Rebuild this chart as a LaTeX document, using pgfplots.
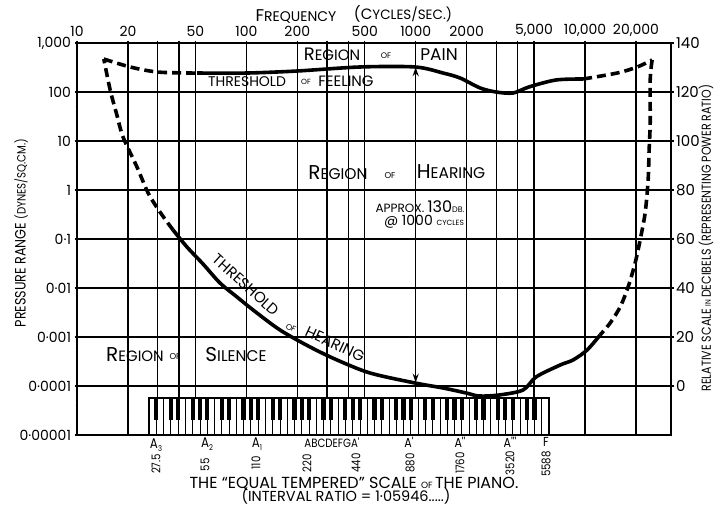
\documentclass[border=0pt]{standalone}
\usepackage{fontspec}
\setmainfont{Poppins}
\newfontfamily\hand{Poppins}[FakeStretch=0.85]
\newfontfamily\handw{Poppins}
\usepackage{pgfplots}
\pgfplotsset{compat=1.18}
\usetikzlibrary{arrows.meta}
\pgfdeclareplotmark{bkey}{\pgfpathrectangle{\pgfqpoint{-2.1pt}{-11pt}}{\pgfqpoint{4.2pt}{22pt}}\pgfusepath{fill}}
\newcommand\fs[1]{\fontsize{#1}{#1}\selectfont}
\begin{document}
\begin{tikzpicture}
%================ main axis ================
\begin{axis}[
  at={(77pt,73pt)}, anchor=south west,
  scale only axis, width=594pt, height=392pt,
  xmode=log, ymode=log,
  xmin=10, xmax=32200, ymin=1e-5, ymax=1000,
  axis line style={line width=2.4pt},
  xtick={10,20,30,40,50,100,200,300,400,500,1000,2000,3000,4000,5000,10000,20000},
  xticklabels={10,20,,,50,100,200,,,500,1000,2000,,,{5,000},{10,000},{20,000}},
  xtick pos=right, xticklabel pos=right,
  ytick={1e-5,1e-4,1e-3,1e-2,1e-1,1,10,100,1000},
  yticklabels={0{\textperiodcentered}00001,0{\textperiodcentered}0001,0{\textperiodcentered}001,0{\textperiodcentered}01,0{\textperiodcentered}1,1,10,100,{1,000}},
  ytick pos=left,
  minor tick num=0,
  grid=major,
  major grid style={black, line width=1.3pt},
  tick style={black, line width=1.3pt},
  major tick length=5pt,
  tick align=center,
  /pgf/number format/assume math mode=true,
  tick label style={font=\fs{14}},
  xticklabel style={font=\fs{14}},
]
% threshold of feeling, dashed start
\addplot[black, line width=3.6pt, dash pattern=on 9pt off 5pt, smooth] coordinates {
(14.4,471) (20.6,324) (29.7,256) (46.5,244) (51.2,244)};
% threshold of feeling, solid
\addplot[black, line width=3.6pt, smooth] coordinates {
(51.2,244) (101,244) (199,268) (470,324) (993,324) (1452,244) (1829,193)
(2399,121) (2985,100) (3762,95.4) (4673,127) (6745,176) (9746,184)};
% threshold of feeling, dashed end
\addplot[black, line width=3.6pt, dash pattern=on 9pt off 5pt, smooth] coordinates {
(9746,184) (15490,244) (20330,324) (24900,450)};
% right branch, dashed
\addplot[black, line width=3.6pt, dash pattern=on 9pt off 5pt, smooth] coordinates {
(24900,450) (24260,176) (24260,23.3) (23910,6.55) (23590,1.60) (22650,0.340)
(21160,0.0955) (19770,0.0324) (17970,0.0105) (16120,0.00409) (14070,0.00193) (12280,0.0011)};
% threshold of hearing, solid
\addplot[black, line width=3.6pt, smooth] coordinates {
(12280,0.0011) (10290,0.000543) (8505,0.00034) (7129,0.000268) (5140,0.000153)
(4306,0.0000828) (3109,0.0000655) (2368,0.0000625) (1986,0.000072) (1452,0.000091)
(993,0.000115) (538,0.000184) (343,0.00034) (238,0.000625) (158,0.00139)
(109.6,0.00356) (88.1,0.00655) (69.9,0.01265) (55.5,0.0309) (44.6,0.0687) (36.9,0.153)};
% threshold of hearing, dashed left
\addplot[black, line width=3.6pt, dash pattern=on 9pt off 5pt, smooth] coordinates {
(36.9,0.153) (30.9,0.356) (26.3,0.869) (22.6,2.95) (18.7,12.1) (17.2,34.0) (15.7,110) (14.4,471)};
% 130 dB arrow at 1000 cycles
\addplot[black, line width=1.6pt, {Stealth[length=9pt,width=6pt]}-{Stealth[length=9pt,width=6pt]}] coordinates {
(1000,0.000117) (1000,322)};
\end{axis}
%================ piano keyboard ================
\begin{axis}[
  at={(77pt,73pt)}, anchor=south west,
  scale only axis, width=594pt, height=392pt,
  xmin=-9.9, xmax=71.775, ymin=0, ymax=392, hide axis, clip=false]
\addplot[fill=white, draw=black, line width=1.3pt] coordinates {(0,0) (0,37) (55,37) (55,0)} \closedcycle;
\addplot[ycomb, black, line width=0.8pt] coordinates {
(1,37) (2,37) (3,37) (4,37) (5,37) (6,37) (7,37) (8,37) (9,37) (10,37)
(11,37) (12,37) (13,37) (14,37) (15,37) (16,37) (17,37) (18,37) (19,37) (20,37)
(21,37) (22,37) (23,37) (24,37) (25,37) (26,37) (27,37) (28,37) (29,37) (30,37)
(31,37) (32,37) (33,37) (34,37) (35,37) (36,37) (37,37) (38,37) (39,37) (40,37)
(41,37) (42,37) (43,37) (44,37) (45,37) (46,37) (47,37) (48,37) (49,37) (50,37)
(51,37) (52,37) (53,37) (54,37)};
\addplot[only marks, mark=bkey, black] coordinates {
(1,26) (3,26) (4,26) (6,26) (7,26) (8,26) (10,26) (11,26) (13,26) (14,26)
(15,26) (17,26) (18,26) (20,26) (21,26) (22,26) (24,26) (25,26) (27,26) (28,26)
(29,26) (31,26) (32,26) (34,26) (35,26) (36,26) (38,26) (39,26) (41,26) (42,26)
(43,26) (45,26) (46,26) (48,26) (49,26) (50,26) (52,26) (53,26)};
\end{axis}
%================ right decibel axis + frame ================
\begin{axis}[
  at={(77pt,73pt)}, anchor=south west,
  scale only axis, width=594pt, height=392pt,
  xmin=0, xmax=1, ymin=-20, ymax=140,
  xtick=\empty,
  ytick={0,20,40,60,80,100,120,140},
  ytick pos=right, yticklabel pos=right,
  axis line style={line width=2.4pt},
  tick style={black, line width=1.3pt},
  major tick length=5pt, tick align=center,
  /pgf/number format/assume math mode=true,
  yticklabel style={font=\fs{15}, xshift=-1pt},
]
\end{axis}
%================ annotations ================
\begin{scope}[x=1pt, y=-1pt, shift={(0pt,508pt)}, font=\handw, every node/.style={inner sep=0.5pt}]
\node at (296,17) {\fs{17}F\fs{14}REQUENCY};
\node at (403,14) {\fs{15}(C\fs{13.5}YCLES/SEC.)};
% region of pain
\node at (332,54) {\fs{18}R\fs{15}EGION};
\node at (386,56) {\fs{8}OF};
\node at (439,55) {\fs{17}PAIN};
% threshold of feeling
\node at (247,82) {\fs{14}THRESHOLD};
\node at (306,82) {\fs{7.5}OF};
\node at (346,81) {\fs{15}FEELING};
% region of hearing
\node at (338,173) {\fs{20}R\fs{15.5}EGION};
\node at (390,176) {\fs{8.5}OF};
\node at (451,172) {\fs{20}H\fs{15.5}EARING};
% region of silence
\node at (135,355) {\fs{20}R\fs{15}EGION};
\node at (175,357) {\fs{8.5}OF};
\node at (236,355) {\fs{20}S\fs{15.5}ILENCE};
% 130 dB note
\node at (420,207) {\fs{12}APPROX. \fs{16}130\fs{8}DB.};
\node at (424,222) {\fs{14}@ 1000 \fs{7.5}CYCLES};
% threshold of hearing along the curve
\node[rotate=-42] at (246,285) {\fs{15}THRESHOLD};
\node[rotate=-28] at (291,328) {\fs{8}OF};
\node[rotate=-25] at (335,344) {\fs{15}HEARING};
% axis titles
\node[rotate=90, font=\hand] at (21,233) {\fs{15}PRESSURE RANGE \fs{12}(DYNES/SQ.CM.)};
\node[rotate=90, font=\hand] at (706,238) {\fs{13}RELATIVE SCALE \fs{8}IN \fs{13}DECIBELS (REPRESENTING POWER RATIO)};
\node at (354,484) {\fs{16}THE “EQUAL TEMPERED” SCALE \fs{9}OF \fs{16}THE PIANO.};
\node at (346,496.5) {\fs{14.5}(INTERVAL RATIO = 1{\textperiodcentered}05946.....)};
% piano note names
\node[font=\hand] at (156,445) {\fs{14}A\raisebox{-3pt}{\fs{8}3}};
\node[font=\hand] at (207,444) {\fs{14}A\raisebox{-3pt}{\fs{8}2}};
\node[font=\hand] at (257,444) {\fs{14}A\raisebox{-3pt}{\fs{8}1}};
\node[font=\hand] at (332,443) {\fs{12}ABCDEFGA'};
\node[font=\hand] at (409,442) {\fs{13}A'};
\node[font=\hand] at (460,442) {\fs{13}A''};
\node[font=\hand] at (510,442) {\fs{13}A'''};
\node[font=\hand] at (546,442) {\fs{13}F};
% piano frequencies
\node[rotate=90, font=\hand] at (156,464) {\fs{12}27.5};
\node[rotate=90, font=\hand] at (205,465) {\fs{12}55};
\node[rotate=90, font=\hand] at (256,463) {\fs{12}110};
\node[rotate=90, font=\hand] at (307,463) {\fs{12}220};
\node[rotate=90, font=\hand] at (356,463) {\fs{12}440};
\node[rotate=90, font=\hand] at (410,463) {\fs{12}880};
\node[rotate=90, font=\hand] at (460,463) {\fs{12}1760};
\node[rotate=90, font=\hand] at (510,463) {\fs{12}3520};
\node[rotate=90, font=\hand] at (546,464) {\fs{12}5588};
\end{scope}
\pgfresetboundingbox
\useasboundingbox (0,0) rectangle (716pt,508pt);
\end{tikzpicture}
\end{document}
